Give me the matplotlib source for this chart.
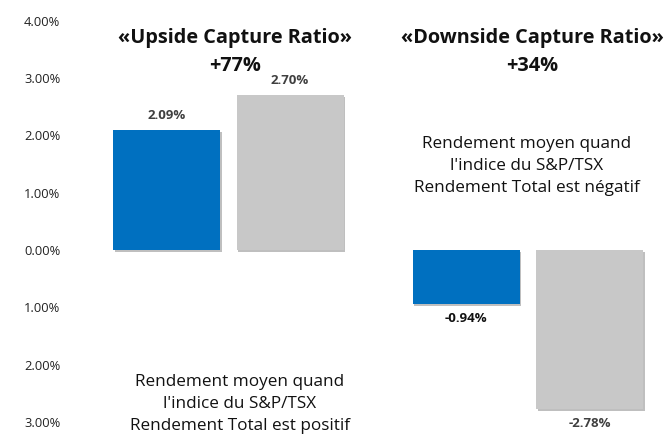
import matplotlib
matplotlib.use("Agg")
import matplotlib.pyplot as plt
import matplotlib.patheffects as pe

plt.rcParams['font.family'] = ['Open Sans', 'DejaVu Sans']

# Data
groups = ["«Upside Capture Ratio»", "«Downside Capture Ratio»"]
ratios = ["+77%", "+34%"]
fund_values = [2.09, -0.94]
index_values = [2.70, -2.78]
fund_labels = ["2.09%", "-0.94%"]
index_labels = ["2.70%", "-2.78%"]
yticks = [4, 3, 2, 1, 0, -1, -2, -3]
ytick_labels = ["4.00%", "3.00%", "2.00%", "1.00%", "0.00%", "1.00%", "2.00%", "3.00%"]
notes = ["Rendement moyen quand\nl'indice du S&P/TSX\nRendement Total est positif",
         "Rendement moyen quand\nl'indice du S&P/TSX\nRendement Total est négatif"]

blue = "#0070C0"
gray = "#C8C8C8"

W, H = 666, 436
fig = plt.figure(figsize=(W / 100, H / 100), dpi=100)
ax_left_px = 70
ax = fig.add_axes([ax_left_px / W, 0, 1 - ax_left_px / W, 1])

unit = 123.5
group_x = [0, (466 - 166.5) / unit]
fund_x = [g for g in group_x]
index_x = [g + 1 for g in group_x]
width = 107 / unit

shadow = [pe.SimplePatchShadow(offset=(1.2, -1.2), shadow_rgbFace="#000000", alpha=0.25), pe.Normal()]
b1 = ax.bar(fund_x, fund_values, width=width, color=blue, zorder=2)
b2 = ax.bar(index_x, index_values, width=width, color=gray, zorder=2)
for p in list(b1) + list(b2):
    p.set_path_effects(shadow)

ax.set_xlim((ax_left_px - 166.5) / unit, (W - 166.5) / unit)
ppu = 57.3
ax.set_ylim(-(H - 250) / ppu, 250 / ppu)

ax.set_yticks(yticks)
ax.set_yticklabels(ytick_labels, fontsize=9.3, color="#222222")
ax.tick_params(axis='y', length=0, pad=7)
ax.set_xticks([])
for s in ax.spines.values():
    s.set_visible(False)

# Value labels
lbl_off = 0.25
for x, v, t in zip(fund_x, fund_values, fund_labels):
    y = v + lbl_off if v >= 0 else v - lbl_off
    ax.text(x, y, t, ha='center', va='center', fontsize=9.5, fontweight='bold',
            color="#404040" if v >= 0 else "#111111")
for x, v, t in zip(index_x, index_values, index_labels):
    y = v + lbl_off if v >= 0 else v - lbl_off
    ax.text(x, y, t, ha='center', va='center', fontsize=9.5, fontweight='bold', color="#404040")

# Titles
title_x = [(235 - 166.5) / unit, (532 - 166.5) / unit]
for tx, g, r in zip(title_x, groups, ratios):
    ax.text(tx, (250 - 38) / ppu, g, ha='center', va='center', fontsize=14.3, fontweight='bold', color="#111111")
    ax.text(tx, (250 - 66) / ppu, r, ha='center', va='center', fontsize=14.3, fontweight='bold', color="#111111")

# Notes
note_pos = [((240 - 166.5) / unit, (250 - 404) / ppu), ((527 - 166.5) / unit, (250 - 166) / ppu)]
for (nx, ny), n in zip(note_pos, notes):
    ax.text(nx, ny, n, ha='center', va='center', fontsize=12.3, color="#111111", linespacing=1.48)

fig.savefig("out.png", dpi=100)
